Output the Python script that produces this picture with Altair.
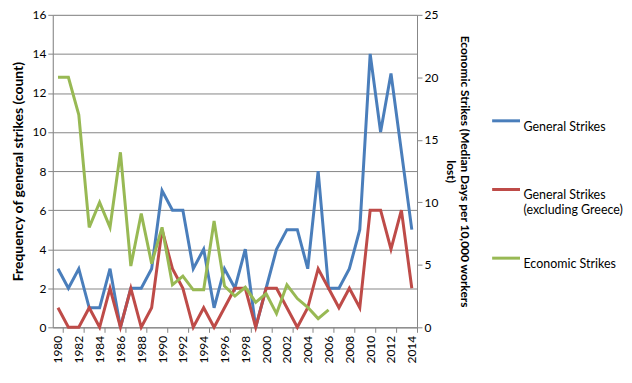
import altair as alt
import pandas as pd

years = list(range(1980, 2015))
general = [3, 2, 3, 1, 1, 3, 0, 2, 2, 3, 7, 6, 6, 3, 4, 1, 3, 2, 4, 0,
           2, 4, 5, 5, 3, 8, 2, 2, 3, 5, 14, 10, 13, 9, 5]
general_ex_greece = [1, 0, 0, 1, 0, 2, 0, 2, 0, 1, 5, 3, 2, 0, 1, 0, 1, 2, 2, 0,
                     2, 2, 1, 0, 1, 3, 2, 1, 2, 1, 6, 6, 4, 6, 2]
econ_years = list(range(1980, 2007))
economic = [20, 20, 17, 8, 10, 8, 14, 4.9, 9.1, 5.1, 8, 3.4, 4.1, 3, 3, 8.5, 3.3,
            2.5, 3.2, 2.0, 2.7, 1.1, 3.4, 2.3, 1.6, 0.7, 1.4]

S1 = "General Strikes"
S2 = "General Strikes (excluding Greece)"
S3 = "Economic Strikes"

left = pd.concat([
    pd.DataFrame({"year": years, "value": general, "series": S1}),
    pd.DataFrame({"year": years, "value": general_ex_greece, "series": S2}),
])
right = pd.DataFrame({"year": econ_years, "value": economic, "series": S3})

FONT = "Lato"
xvals = []
for y in range(1980, 2015, 2):
    xvals += [y, y + 0.5]

color = alt.Color(
    "series:N",
    scale=alt.Scale(domain=[S1, S2, S3], range=["#4A7EBB", "#BE4B48", "#98B954"]),
    legend=alt.Legend(
        title=None, orient="none", legendX=440, legendY=91,
        symbolType="stroke", symbolSize=784, symbolStrokeWidth=3,
        rowPadding=26, gridAlign="all", labelFont=FONT, labelFontSize=12.5,
        labelColor="#000000", labelLimit=200, labelBaseline="top", labelOffset=2,
        labelExpr="datum.label == 'General Strikes (excluding Greece)' ? ['General Strikes', '(excluding Greece)'] : datum.label",
    ),
)

x = alt.X(
    "year:Q",
    scale=alt.Scale(domain=[1979.5, 2014.5], nice=False, zero=False),
    axis=alt.Axis(
        title=None, values=xvals, format="d", labelAngle=270, labelOverlap=False,
        labelExpr="datum.value % 2 == 0 ? datum.label : ''",
        tickOpacity={"condition": {"test": "datum.value % 1 == 0", "value": 0}, "value": 1},
        grid=False, domainColor="#868686", tickColor="#868686", tickSize=5,
        labelFont=FONT, labelFontSize=12, labelColor="#000000", labelPadding=3,
    ),
)

l1 = alt.Chart(left).mark_line(strokeWidth=3).encode(
    x=x,
    y=alt.Y("value:Q", scale=alt.Scale(domain=[0, 16], nice=False),
            axis=alt.Axis(title="Frequency of general strikes (count)",
                          values=list(range(0, 17, 2)), grid=True,
                          gridColor="#868686", domainColor="#868686",
                          tickColor="#868686", tickSize=5,
                          labelFont=FONT, labelFontSize=12, labelColor="#000000",
                          titleFont=FONT, titleFontSize=14, titleFontWeight="bold",
                          titleColor="#000000", titlePadding=7)),
    color=color,
    detail="series:N",
)

l2 = alt.Chart(right).mark_line(strokeWidth=3).encode(
    x=x,
    y=alt.Y("value:Q", scale=alt.Scale(domain=[0, 25], nice=False),
            axis=alt.Axis(orient="right",
                          title=["Economic Strikes (Median Days per 10,000 workers", "lost)"],
                          values=list(range(0, 26, 5)), grid=False,
                          domainColor="#868686", tickColor="#868686", tickSize=5,
                          labelFont=FONT, labelFontSize=12, labelColor="#000000",
                          titleFont=FONT, titleFontSize=12, titleFontWeight="bold",
                          titleColor="#000000", titlePadding=6)),
    color=color,
)

chart = alt.layer(l1, l2).resolve_scale(y="independent").properties(
    width=366, height=314, padding={"left": 3, "top": 0, "right": 0, "bottom": 2}
).configure_view(stroke=None).configure(background="white")

chart.save("out.html", embed_options={"renderer": "svg", "actions": False})
